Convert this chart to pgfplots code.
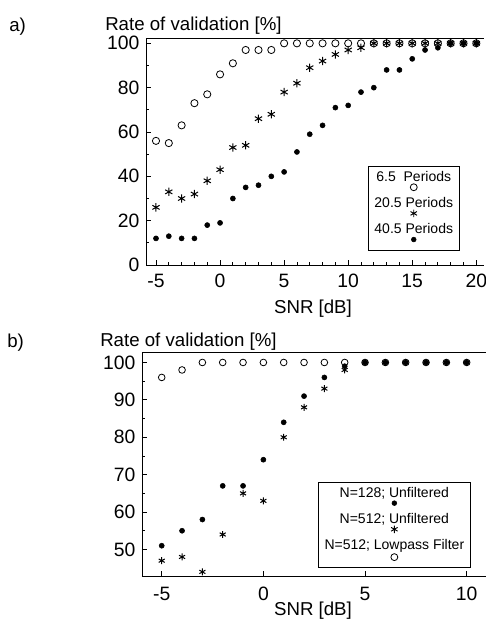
\documentclass[border=0pt]{standalone}
\usepackage{fontspec}
\setmainfont{Liberation Sans}
\usepackage{pgfplots}
\pgfplotsset{compat=1.18}

% legend keys: text on top, marker below it
\newcommand\mkcirc{\tikz[baseline=-3pt]{\pgfsetlinewidth{0.6pt}\pgfsetplotmarksize{2.6pt}\pgfuseplotmark{o}}}
\newcommand\mkstar{\tikz[baseline=-3pt]{\pgfsetlinewidth{0.7pt}\pgfsetplotmarksize{2.8pt}\pgfuseplotmark{asterisk}}}
\newcommand\mkdot{\tikz[baseline=-3pt]{\pgfsetplotmarksize{1.8pt}\pgfuseplotmark{*}}}

\pgfplotsset{
  valstyle/.style={
    scale only axis,
    axis x line*=bottom, axis y line*=left,
    tick align=inside,
    major tick length=4pt, minor tick length=2pt,
    tick style={black, line width=0.6pt},
    axis line style={line width=0.7pt},
    ticklabel style={font=\fontsize{14.5}{16}\selectfont},
    yticklabel style={xshift=-1.5pt},
    xticklabel style={yshift=-3pt},
    /pgf/number format/assume math mode=true,
    clip=false,
    legend image code/.code={},
    legend cell align=center,
    legend style={font=\fontsize{10.5}{7.5}\selectfont,
      cells={align=center}, nodes={inner sep=1.5pt},
      draw=black, fill=white, line width=0.6pt, row sep=0pt, inner xsep=3pt, inner ysep=2pt},
    after end axis/.code={\draw[line width=0.7pt] (rel axis cs:0,1) -- (rel axis cs:1,1);},
  },
  circ/.style={black, only marks, mark=o, mark size=2.7pt, mark options={line width=0.6pt}},
  star/.style={black, only marks, mark=asterisk, mark size=3.1pt, mark options={line width=0.75pt}},
  dot/.style={black, only marks, mark=*, mark size=1.9pt},
}

\begin{document}
\begin{tikzpicture}
\path[use as bounding box] (0,0) rectangle (364.5pt,-469.5pt);

% ---------- a) ----------
\begin{axis}[valstyle,
  at={(109.5pt,-198.75pt)}, anchor=south west,
  width=253.5pt, height=170.25pt,
  xmin=-5.78, xmax=20.6, ymin=0, ymax=102.4,
  xtick={-5,0,5,10,15,20}, minor x tick num=4,
  ytick={0,20,40,60,80,100}, minor y tick num=1,
  legend style={at={(axis description cs:0.657,0.436)}, anchor=north west},
]
\addplot[circ] coordinates {
  (-5,56) (-4,55) (-3,63) (-2,73) (-1,77) (0,86) (1,91) (2,97) (3,97) (4,97)
  (5,100) (6,100) (7,100) (8,100) (9,100) (10,100) (11,100) (12,100) (13,100)
  (14,100) (15,100) (16,100) (17,100) (18,100) (19,100) (20,100)};
\addlegendentry{6.5\ \ Periods\\\mkcirc}
\addplot[star] coordinates {
  (-5,26) (-4,33) (-3,30) (-2,32) (-1,38) (0,43) (1,53) (2,54) (3,66) (4,68)
  (5,78) (6,82) (7,89) (8,92) (9,95) (10,97) (11,98) (12,100) (13,100)
  (14,100) (15,100) (16,100) (17,100) (18,100) (19,100) (20,100)};
\addlegendentry{20.5 Periods\\\mkstar}
\addplot[dot] coordinates {
  (-5,12) (-4,13) (-3,12) (-2,12) (-1,18) (0,19) (1,30) (2,35) (3,36) (4,40)
  (5,42) (6,51) (7,59) (8,63) (9,71) (10,72) (11,78) (12,80) (13,88)
  (14,88) (15,93) (16,97) (17,98) (18,100) (19,100) (20,100)};
\addlegendentry{40.5 Periods\\\mkdot}
\end{axis}

\node[anchor=base west, inner sep=0pt, font=\fontsize{14}{16}\selectfont] at (6.75pt,-23.25pt) {a)};
\node[anchor=base west, inner sep=0pt, font=\fontsize{14}{16}\selectfont] at (78.75pt,-22.5pt) {Rate of validation [\%]};
\node[anchor=base, inner sep=0pt, font=\fontsize{14}{16}\selectfont] at (234.75pt,-234.75pt) {SNR [dB]};

% ---------- b) ----------
\begin{axis}[valstyle,
  at={(106.5pt,-432pt)}, anchor=south west,
  width=258pt, height=168pt,
  xmin=-5.97, xmax=10.95, ymin=42.9, ymax=102.8,
  xtick={-5,0,5,10},
  xticklabel style={yshift=-2pt},
  ytick={50,60,70,80,90,100}, minor y tick num=1,
  legend style={at={(axis description cs:0.512,0.42)}, anchor=north west},
]
\addplot[dot] coordinates {
  (-5,51) (-4,55) (-3,58) (-2,67) (-1,67) (0,74) (1,84) (2,91) (3,96) (4,99)
  (5,100) (6,100) (7,100) (8,100) (9,100) (10,100)};
\addlegendentry{N=128; Unfiltered\\\mkdot}
\addplot[star, mark size=2.6pt] coordinates {
  (-5,47) (-4,48) (-3,44) (-2,54) (-1,65) (0,63) (1,80) (2,88) (3,93) (4,98)
  (5,100) (6,100) (7,100) (8,100) (9,100) (10,100)};
\addlegendentry{N=512; Unfiltered\\\mkstar}
\addplot[circ, mark size=2.5pt] coordinates {
  (-5,96) (-4,98) (-3,100) (-2,100) (-1,100) (0,100) (1,100) (2,100) (3,100) (4,100)
  (5,100) (6,100) (7,100) (8,100) (9,100) (10,100)};
\addlegendentry{N=512; Lowpass Filter\\\mkcirc}
\end{axis}

\node[anchor=base west, inner sep=0pt, font=\fontsize{14}{16}\selectfont] at (5.25pt,-260.25pt) {b)};
\node[anchor=base west, inner sep=0pt, font=\fontsize{14}{16}\selectfont] at (75pt,-259.5pt) {Rate of validation [\%]};
\node[anchor=base, inner sep=0pt, font=\fontsize{14}{16}\selectfont] at (234.75pt,-461.25pt) {SNR [dB]};
\end{tikzpicture}
\end{document}
